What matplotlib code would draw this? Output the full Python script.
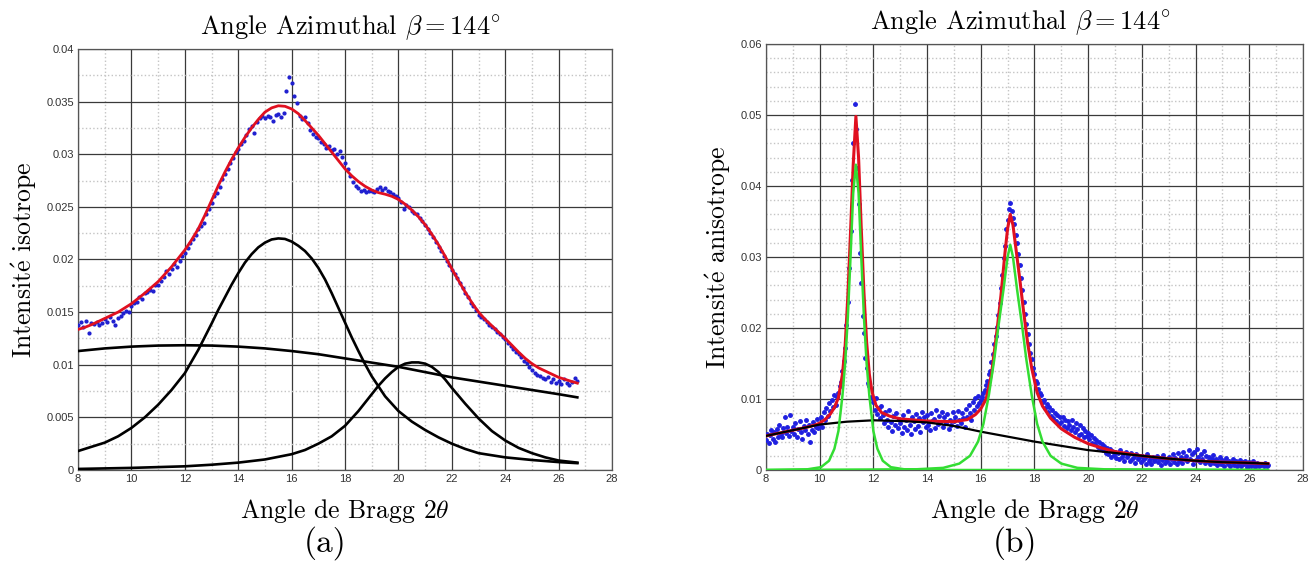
import numpy as np
import matplotlib
matplotlib.use("Agg")
import matplotlib.pyplot as plt
from matplotlib.ticker import MultipleLocator

plt.rcParams['mathtext.fontset'] = 'cm'
plt.rcParams['axes.unicode_minus'] = False
SERIF = ['cmr10', 'DejaVu Serif']

# ---------------- (a) isotrope ----------------
# mesures (x = 8 -> 26.7, pas 0.1), en 1e-3
iso_pts = [13.8, 14.1, 13.6, 14.2, 13.0, 14.0, 13.9, 14.1, 13.8, 14.0,
           14.3, 14.1, 14.5, 14.2, 13.8, 14.4, 14.6, 14.9, 15.1, 15.0,
           15.6, 15.9, 16.0, 16.4, 16.2, 16.8, 16.9, 17.1, 17.0, 17.6,
           17.6, 18.0, 18.3, 18.9, 18.6, 19.1, 19.6, 19.3, 19.9, 20.3,
           20.6, 21.1, 21.6, 21.9, 22.3, 22.9, 23.2, 23.5, 24.3, 24.8,
           25.4, 26.0, 26.3, 26.9, 27.6, 28.1, 28.6, 29.2, 29.6, 30.2,
           30.5, 31.0, 31.3, 31.8, 32.4, 32.7, 32.0, 33.1, 33.4, 33.6,
           33.4, 33.6, 33.5, 33.2, 33.7, 33.8, 33.5, 33.9, 36.0, 37.3,
           36.8, 35.5, 34.9, 33.6, 33.3, 33.5, 33.0, 32.3, 31.9, 31.6,
           31.5, 31.2, 31.0, 30.6, 30.8, 30.4, 30.5, 30.0, 30.3, 29.7,
           29.2, 28.6, 27.9, 27.4, 27.0, 26.8, 26.5, 26.6, 26.4, 26.5,
           26.5, 26.4, 26.7, 26.9, 26.6, 26.8, 26.5, 26.4, 26.2, 26.0,
           25.8, 25.5, 24.8, 25.2, 25.0, 24.6, 24.4, 24.3, 23.9, 23.7,
           23.3, 22.9, 22.5, 22.1, 21.7, 21.2, 20.8, 20.3, 19.9, 19.5,
           19.0, 18.6, 18.2, 17.8, 17.3, 16.8, 16.4, 15.9, 15.6, 15.2,
           14.7, 14.5, 14.3, 14.1, 13.8, 13.6, 13.4, 13.1, 12.9, 12.6,
           12.4, 12.1, 11.8, 11.5, 11.2, 11.0, 10.7, 10.4, 10.2, 9.8,
           9.5, 9.2, 9.0, 8.9, 8.7, 8.6, 8.8, 8.4, 8.6, 8.3,
           8.5, 8.2, 8.6, 8.3, 8.1, 8.4, 8.7, 8.5]

# courbe ajustee, pas 0.25 de 8 a 26.5 puis 26.7
iso_fit = [13.35, 13.55, 13.8, 14.1, 14.4, 14.7, 15.0, 15.4, 15.8, 16.3, 16.8, 17.35,
           17.9, 18.6, 19.3, 20.1, 20.9, 21.85, 22.9, 24.2, 25.6, 27.0, 28.3, 29.5,
           30.6, 31.6, 32.5, 33.3, 34.0, 34.4, 34.6, 34.55, 34.3, 33.85, 33.2, 32.5,
           31.8, 31.0, 30.2, 29.4, 28.6, 27.95, 27.4, 26.95, 26.6, 26.35, 26.2, 26.0,
           25.7, 25.25, 24.7, 24.05, 23.3, 22.4, 21.4, 20.3, 19.1, 18.0, 16.9, 15.9,
           15.0, 14.3, 13.7, 13.1, 12.5, 11.85, 11.2, 10.6, 10.1, 9.7, 9.4, 9.1,
           8.8, 8.6, 8.4, 8.25]

bg_x = [8, 9, 10, 11, 12, 13, 14, 15, 16, 17, 18, 19, 20, 21, 22, 23, 24, 25, 26, 26.7]
iso_bg = [11.3, 11.55, 11.72, 11.82, 11.85, 11.82, 11.72, 11.55, 11.3, 11.0,
          10.6, 10.2, 9.8, 9.3, 8.8, 8.4, 8.0, 7.6, 7.2, 6.9]

pk1_x = [8, 8.5, 9, 9.5, 10, 10.5, 11, 11.5, 12, 12.5, 13, 13.25, 13.5, 13.75, 14,
         14.25, 14.5, 14.75, 15, 15.25, 15.5, 15.75, 16, 16.25, 16.5, 16.75, 17,
         17.25, 17.5, 17.75, 18, 18.25, 18.5, 18.75, 19, 19.5, 20, 20.5, 21, 21.5,
         22, 22.5, 23, 24, 25, 26, 26.7]
iso_pk1 = [1.8, 2.2, 2.6, 3.2, 4.0, 5.0, 6.2, 7.6, 9.2, 11.4, 13.9, 15.2, 16.4, 17.6,
           18.7, 19.7, 20.5, 21.15, 21.6, 21.9, 22.0, 21.95, 21.7, 21.3, 20.8, 20.1,
           19.2, 18.1, 16.8, 15.4, 14.0, 12.6, 11.3, 10.05, 8.9, 7.0, 5.6, 4.6, 3.8,
           3.1, 2.5, 2.0, 1.6, 1.2, 0.95, 0.75, 0.65]

pk2_x = [8, 10, 12, 13, 14, 15, 16, 16.5, 17, 17.5, 18, 18.5, 19, 19.25, 19.5, 19.75,
         20, 20.25, 20.5, 20.75, 21, 21.25, 21.5, 21.75, 22, 22.5, 23, 23.5, 24,
         24.5, 25, 25.5, 26, 26.7]
iso_pk2 = [0.1, 0.2, 0.35, 0.5, 0.7, 1.0, 1.5, 1.9, 2.5, 3.2, 4.2, 5.6, 7.2, 8.0, 8.7,
           9.3, 9.8, 10.1, 10.22, 10.22, 10.1, 9.8, 9.3, 8.6, 7.8, 6.3, 4.9, 3.7,
           2.8, 2.1, 1.6, 1.2, 0.9, 0.7]

# ---------------- (b) anisotrope ----------------
# mesures (x = 8 -> 26.7, pas 0.05), en 1e-3
ani_pts = [4.2, 5.1, 3.8, 4.9, 5.6, 4.4, 5.3, 4.0, 5.8, 4.7,
           6.3, 5.0, 4.6, 5.9, 7.4, 5.2, 6.1, 4.8, 7.8, 5.5,
           6.0, 5.1, 6.6, 4.7, 5.8, 6.9, 5.3, 4.4, 6.2, 5.6,
           7.0, 5.0, 6.4, 3.9, 5.7, 6.8, 5.4, 6.1, 7.2, 5.9,
           6.5, 7.4, 6.0, 8.1, 7.0, 8.8, 7.6, 9.4, 8.3, 9.9,
           8.9, 10.5, 9.2, 10.3, 10.9, 11.8, 12.4, 14.0, 15.3, 17.2,
           20.4, 23.6, 28.5, 33.6, 40.8, 46.0, 51.5, 48.0, 42.6, 37.5,
           30.6, 26.4, 21.7, 19.3, 15.8, 14.3, 12.2, 11.8, 10.3, 10.1,
           9.6, 8.4, 10.2, 7.9, 8.8, 7.3, 9.0, 7.8, 6.6, 8.2,
           7.1, 6.0, 8.5, 6.8, 5.5, 7.6, 6.3, 8.0, 5.9, 7.2,
           6.6, 5.2, 7.8, 6.1, 7.0, 5.7, 8.3, 6.4, 5.0, 7.4,
           6.9, 5.8, 7.9, 6.2, 7.3, 5.4, 8.1, 6.7, 7.5, 6.0,
           7.7, 6.4, 5.6, 8.0, 6.9, 7.2, 5.9, 8.4, 6.5, 7.6,
           6.8, 8.2, 6.0, 7.4, 6.6, 7.9, 5.8, 7.0, 6.3, 8.1,
           6.9, 7.5, 6.2, 8.3, 7.1, 6.6, 8.0, 7.3, 6.1, 8.6,
           7.4, 9.2, 8.0, 7.1, 9.6, 8.4, 10.1, 9.0, 10.4, 9.5,
           9.9, 10.3, 10.9, 11.2, 12.0, 12.5, 13.5, 14.0, 15.2, 16.3,
           17.8, 18.9, 20.2, 21.8, 23.5, 25.6, 27.4, 29.8, 31.6, 33.9,
           35.2, 36.8, 37.6, 36.5, 35.5, 34.7, 33.1, 32.0, 30.4, 28.9,
           27.0, 25.3, 23.6, 22.0, 20.6, 19.2, 17.7, 16.5, 15.6, 14.4,
           13.5, 12.6, 12.2, 11.4, 10.8, 10.5, 9.6, 9.9, 8.8, 9.3,
           8.2, 8.9, 7.6, 8.4, 7.3, 8.0, 6.9, 7.7, 6.5, 7.4,
           6.8, 7.5, 6.2, 7.1, 5.9, 6.9, 6.4, 5.6, 7.0, 6.1,
           5.4, 6.6, 5.8, 4.9, 6.3, 5.1, 5.9, 4.6, 5.5, 4.8,
           5.2, 4.3, 4.9, 3.8, 4.5, 3.6, 4.2, 3.3, 3.9, 3.1,
           3.6, 2.8, 3.4, 2.4, 3.1, 2.2, 2.9, 1.9, 2.7, 2.1,
           2.6, 1.7, 2.4, 1.5, 2.8, 1.9, 2.2, 1.3, 2.5, 1.8,
           2.1, 1.2, 2.4, 1.6, 1.9, 1.0, 2.3, 1.5, 1.8, 1.1,
           2.0, 1.4, 1.7, 0.9, 2.2, 1.3, 1.6, 0.8, 1.9, 1.2,
           1.5, 2.0, 1.1, 1.7, 0.7, 1.4, 2.1, 1.0, 1.6, 1.2,
           1.8, 0.9, 1.5, 2.2, 1.1, 1.7, 0.8, 2.4, 1.3, 1.9,
           1.0, 2.6, 1.6, 2.0, 1.2, 2.8, 1.5, 2.2, 0.9, 2.5,
           1.4, 2.9, 1.8, 1.1, 2.3, 1.6, 2.7, 1.0, 2.0, 1.3,
           1.9, 0.8, 1.5, 2.1, 1.0, 1.6, 0.7, 1.3, 1.8, 0.9,
           1.4, 0.6, 1.2, 1.7, 0.8, 1.3, 0.5, 1.1, 1.5, 0.7,
           1.2, 0.6, 1.0, 1.4, 0.5, 1.1, 0.8, 1.3, 0.4, 0.9,
           1.1, 0.6, 0.9, 1.2, 0.4, 0.8, 1.0, 0.5, 0.9, 0.7,
           0.8, 0.5, 1.0, 0.6, 0.7]

ani_fit_x = [8.0, 9.0, 9.5, 9.8, 10.0, 10.2, 10.4, 10.55, 10.7, 10.85, 10.95, 11.05,
             11.15, 11.25, 11.35, 11.45, 11.55, 11.65, 11.75, 11.85, 11.95, 12.1, 12.3,
             12.6, 13.0, 14.0, 15.0, 15.5, 15.8, 16.0, 16.2, 16.4, 16.6, 16.75, 16.9,
             17.0, 17.1, 17.2, 17.3, 17.45, 17.6, 17.75, 17.9, 18.1, 18.3, 18.6, 19.0,
             19.5, 20.0, 20.5, 21.0, 22.0, 23.0, 24.0, 25.0, 26.0, 26.7]
ani_fit = [4.8, 5.6, 6.0, 6.3, 6.6, 7.1, 7.9, 8.8, 10.2, 13.5, 17.5, 24.5, 33.5, 43.0,
           49.8, 44.0, 34.0, 25.0, 18.0, 13.5, 11.0, 9.1, 8.1, 7.6, 7.2, 6.9, 6.8, 7.1,
           7.8, 8.6, 10.0, 13.5, 19.5, 24.5, 30.5, 34.0, 36.0, 34.5, 31.5, 27.0, 22.2,
           17.8, 14.3, 10.9, 9.0, 7.3, 5.8, 4.6, 3.7, 3.1, 2.6, 2.0, 1.6, 1.3, 1.1,
           1.0, 0.9]

ani_bg = [4.8, 5.6, 6.4, 6.8, 7.0, 6.9, 6.7, 6.2, 5.4, 4.7, 4.0, 3.4, 2.8, 2.4,
          2.0, 1.6, 1.3, 1.1, 1.0, 0.9]

g1_x = [8.0, 9.55, 10.05, 10.35, 10.55, 10.7, 10.85, 10.95, 11.05, 11.15, 11.25, 11.35,
        11.45, 11.55, 11.65, 11.75, 11.85, 12.0, 12.15, 12.35, 12.65, 13.15, 14.5, 26.7]
ani_g1 = [0, 0.1, 0.4, 1.3, 3.0, 5.5, 10.5, 15.0, 21.5, 30.0, 39.0, 43.0, 39.0, 30.0,
          21.5, 15.0, 10.5, 5.5, 3.0, 1.3, 0.4, 0.1, 0, 0]

g2_x = [8.0, 13.6, 14.6, 15.2, 15.6, 15.9, 16.1, 16.3, 16.5, 16.65, 16.85, 17.0, 17.1,
        17.2, 17.35, 17.55, 17.7, 17.9, 18.1, 18.3, 18.6, 19.0, 19.6, 20.6, 26.7]
ani_g2 = [0, 0.1, 0.3, 0.9, 2.0, 4.0, 6.5, 10.5, 15.5, 20.0, 25.5, 30.0, 31.7, 30.0,
          25.5, 20.0, 15.5, 10.5, 6.5, 4.0, 2.0, 0.9, 0.3, 0.1, 0]


def k(v):
    return np.array(v) * 1e-3


def style(ax, ymax, ymaj, ymin, ylabel, tx):
    ax.set_xlim(8, 28)
    ax.set_ylim(0, ymax)
    ax.xaxis.set_major_locator(MultipleLocator(2))
    ax.xaxis.set_minor_locator(MultipleLocator(1))
    ax.yaxis.set_major_locator(MultipleLocator(ymaj))
    ax.yaxis.set_minor_locator(MultipleLocator(ymin))
    ax.yaxis.set_major_formatter(plt.FuncFormatter(lambda v, p: '0' if v == 0 else ('%g' % v)))
    ax.grid(which='major', color='#3a3a3a', linestyle='-', linewidth=0.9, zorder=0)
    ax.grid(which='minor', color='#c4c4c4', linestyle=':', linewidth=1.0, zorder=0)
    ax.set_axisbelow(True)
    ax.tick_params(which='both', length=0, labelsize=8, labelcolor='#333333', pad=3)
    for lab in ax.get_xticklabels() + ax.get_yticklabels():
        lab.set_family(['Liberation Sans'])
    for s in ax.spines.values():
        s.set_color('#555555')
        s.set_linewidth(0.9)
    ax.set_title(r'Angle Azimuthal $\beta = 144^{\circ}$', family=SERIF, fontsize=19,
                 pad=11, x=tx)
    ax.set_xlabel(r'Angle de Bragg $2\theta$', family=SERIF, fontsize=18.5, labelpad=9)
    ax.set_ylabel(ylabel, family=SERIF, fontsize=18.5, labelpad=5)


fig = plt.figure(figsize=(13.12, 5.69), dpi=100)

ax1 = fig.add_axes([0.0595, 0.174, 0.407, 0.740])
x_iso = np.linspace(8, 26.7, len(iso_pts))
fit_x = np.append(np.arange(8, 26.51, 0.25), 26.7)
ax1.plot(x_iso, k(iso_pts), '.', color='#1f1fd0', markersize=4, zorder=3)
ax1.plot(fit_x, k(iso_fit), color='#e01020', linewidth=2.0, zorder=4)
ax1.plot(bg_x, k(iso_bg), color='black', linewidth=1.9, zorder=5)
ax1.plot(pk1_x, k(iso_pk1), color='black', linewidth=1.9, zorder=5)
ax1.plot(pk2_x, k(iso_pk2), color='black', linewidth=1.9, zorder=5)
style(ax1, 0.04, 0.005, 0.0025, r'Intensit$\acute{\rm e}$ isotrope', 0.51)

ax2 = fig.add_axes([0.5838, 0.174, 0.4093, 0.7487])
x_ani = np.linspace(8, 26.7, len(ani_pts))
ax2.plot(x_ani, k(ani_pts), '.', color='#1f1fe0', markersize=5, zorder=3)
ax2.plot(ani_fit_x, k(ani_fit), color='#e01020', linewidth=2.2, zorder=4)
ax2.plot(bg_x, k(ani_bg), color='black', linewidth=1.6, zorder=5)
ax2.plot(g1_x, k(ani_g1), color='#33dd33', linewidth=1.8, zorder=6)
ax2.plot(g2_x, k(ani_g2), color='#33dd33', linewidth=1.8, zorder=6)
style(ax2, 0.06, 0.01, 0.002, r'Intensit$\acute{\rm e}$ anisotrope', 0.473)

fig.text(0.248, 0.03, '(a)', family=SERIF, fontsize=24, ha='center')
fig.text(0.774, 0.03, '(b)', family=SERIF, fontsize=24, ha='center')

fig.savefig('out.png', dpi=100)
